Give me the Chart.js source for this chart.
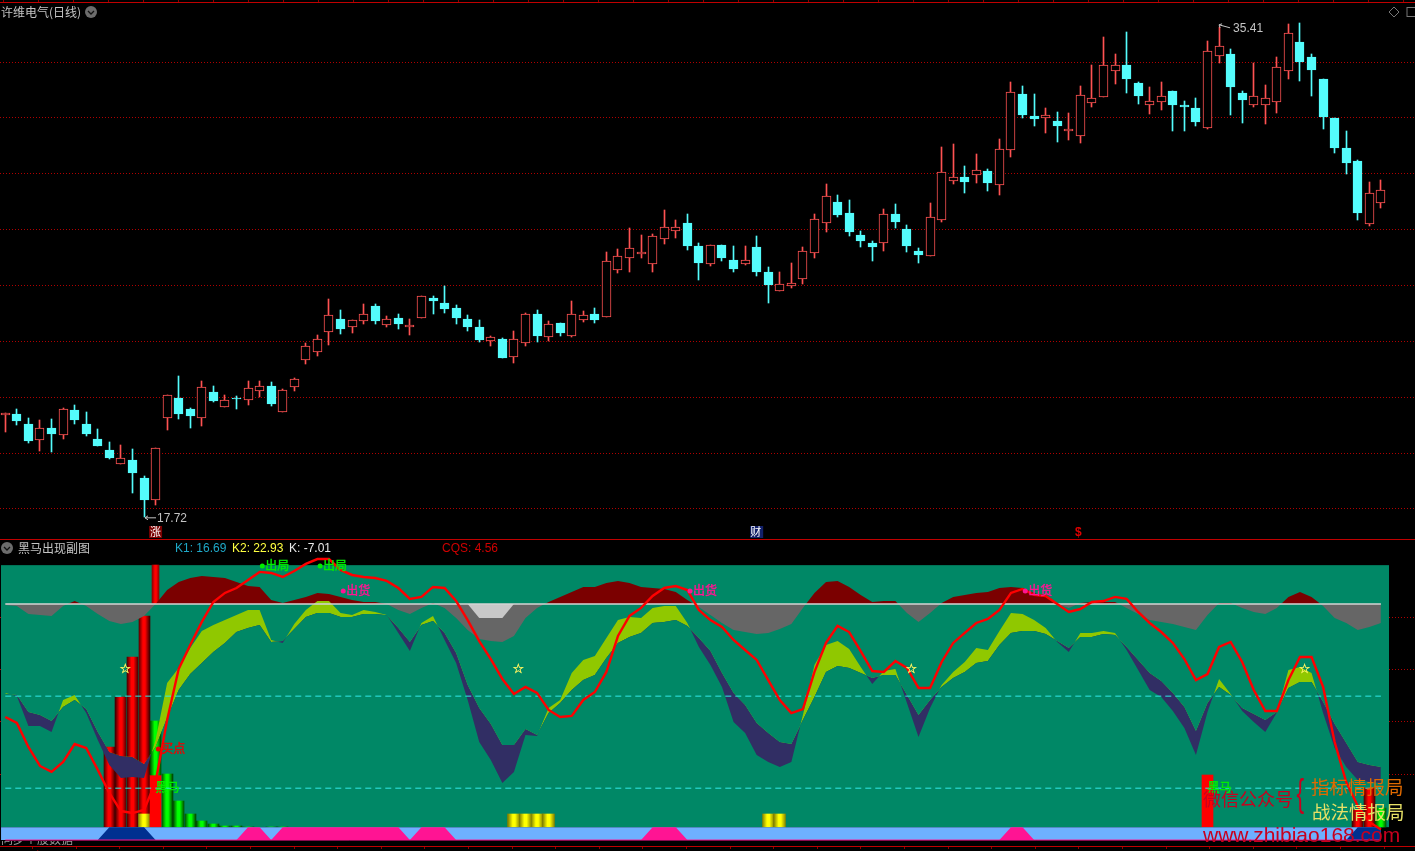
<!DOCTYPE html>
<html>
<head>
<meta charset="utf-8">
<script src="https://cdn.jsdelivr.net/npm/chart.js@4"></script>
<style>
  html, body { margin: 0; background: #000; overflow: hidden; }
  #page { position: relative; width: 1415px; height: 851px; overflow: hidden; background: #000; }
  canvas { position: absolute; left: 0; }
  .t { position: absolute; font: 12px 'Noto Sans CJK SC', 'Liberation Sans', sans-serif; line-height: 14px; white-space: nowrap; }
  .rule { position: absolute; left: 0; width: 1415px; height: 1px; background: #c00000; }
  .fold { position: absolute; width: 14px; height: 14px; }
</style>
</head>
<body>
<div id="page">
  <canvas id="priceChart" width="1415" height="540" style="top:0"></canvas>
  <canvas id="indicatorChart" width="1415" height="311" style="top:540px"></canvas>

  <div class="rule" style="top:2px"></div>
  <div class="rule" style="top:539px"></div>
  <div class="rule" style="top:846px"></div>
  <div style="position:absolute;left:0;top:0;width:1415px;height:2px;background:repeating-linear-gradient(90deg,#900000 0 1px,transparent 1px 35px);background-position:3px 0"></div>
  <div style="position:absolute;left:32px;top:847px;width:1383px;height:2px;background:repeating-linear-gradient(90deg,#900000 0 1px,transparent 1px 43.6px)"></div>

  <div class="t" style="left:1px;top:5px;color:#c4c4c4">许维电气(日线)</div>
  <svg class="fold" style="left:84px;top:5px" viewBox="0 0 14 14"><circle cx="7" cy="7" r="6" fill="#6c6c6c"/><polyline points="4,6 7,9 10,6" fill="none" stroke="#111" stroke-width="1.3"/></svg>
  <svg style="position:absolute;left:1387px;top:5px" width="28" height="14" viewBox="0 0 28 14"><path d="M7 2 L12 7 L7 12 L2 7 Z" fill="none" stroke="#777"/><rect x="20" y="2.5" width="12" height="9" fill="none" stroke="#777"/></svg>

  <svg class="fold" style="left:0;top:541px" viewBox="0 0 14 14"><circle cx="7" cy="7" r="6" fill="#6c6c6c"/><polyline points="4,6 7,9 10,6" fill="none" stroke="#111" stroke-width="1.3"/></svg>
  <div class="t" style="left:18px;top:541px;color:#c4c4c4">黑马出现副图</div>
  <div class="t" style="left:175px;top:541px;color:#1fa8c8;font-family:'Liberation Sans'">K1: 16.69</div>
  <div class="t" style="left:232px;top:541px;color:#ffff40;font-family:'Liberation Sans'">K2: 22.93</div>
  <div class="t" style="left:289px;top:541px;color:#e8e8e8;font-family:'Liberation Sans'">K: -7.01</div>
  <div class="t" style="left:442px;top:541px;color:#d00000;font-family:'Liberation Sans'">CQS: 4.56</div>

  <div style="position:absolute;left:1px;top:841px;width:90px;height:4px;overflow:hidden">
    <div class="t" style="left:0;top:-9px;color:#999">同步个股数据</div>
  </div>
  <div style="position:absolute;left:0;top:849px;width:1415px;height:2px;overflow:hidden">
    <div class="t" style="left:7px;top:-1px;color:#d00000">2023/</div>
    <div class="t" style="left:122px;top:-1px;color:#d00000">11</div>
    <div class="t" style="left:295px;top:-1px;color:#d00000">12</div>
    <div class="t" style="left:537px;top:-1px;color:#d00000">2</div>
    <div class="t" style="left:770px;top:-1px;color:#d00000">3</div>
    <div class="t" style="left:1003px;top:-1px;color:#d00000">4</div>
    <div class="t" style="left:1222px;top:-1px;color:#d00000">5</div>
  </div>

  <div class="t" style="left:1203px;top:787px;font-size:18px;line-height:22px;color:#c8001e">微信公众号</div>
  <div class="t" style="left:1294px;top:769px;font-size:38px;line-height:48px;color:#c8001e;font-family:'Liberation Sans';transform:scaleX(.6)">{</div>
  <div class="t" style="left:1311px;top:775px;font-size:18.5px;line-height:22px;color:#e06a00">指标情报局</div>
  <div class="t" style="left:1312px;top:800px;font-size:18.5px;line-height:22px;color:#e6e066">战法情报局</div>
  <div class="t" style="left:1203px;top:822px;font-size:21px;line-height:26px;color:#c8001e;font-family:'Liberation Sans'">www.zhibiao168.com</div>
</div>

<script>
// ── Data ─────────────────────────────────────────────────────────────────────

const candleOpen = [
  21.35,21.40,21.04,20.48,20.90,20.66,21.54,21.04,20.50,20.11,
  19.62,19.75,19.11,18.33,21.27,21.97,21.58,21.27,22.19,21.66,
  21.99,21.91,22.23,22.40,21.48,22.38,23.34,23.63,24.34,24.80,
  24.52,24.74,25.26,24.60,24.84,24.51,24.85,25.55,25.37,25.19,
  24.80,24.51,24.01,24.08,23.45,23.95,24.98,24.17,24.66,24.20,
  24.77,24.98,24.88,26.57,27.00,27.13,26.78,27.67,27.96,28.24,
  27.41,26.78,27.45,26.91,26.78,27.38,26.48,25.81,25.99,26.24,
  27.15,28.25,28.99,28.60,27.81,27.52,27.53,28.56,28.02,27.23,
  27.07,28.35,29.75,29.88,29.96,30.10,29.61,30.86,32.85,32.07,
  31.99,31.89,31.54,31.36,32.52,32.76,33.69,33.89,33.25,32.47,
  32.58,32.96,32.46,32.35,31.65,34.23,34.29,32.89,32.47,32.47,
  32.58,33.69,34.72,34.18,33.39,31.99,30.92,30.46,28.21,28.96];

const candleClose = [
  21.43,21.16,20.43,20.89,20.68,21.57,21.18,20.68,20.25,19.82,
  19.81,19.29,18.32,20.17,22.07,21.40,21.33,22.35,21.86,21.89,
  21.95,22.32,22.39,21.76,22.25,22.65,23.82,24.07,24.93,24.44,
  24.75,24.97,24.73,24.79,24.62,24.59,25.61,25.44,25.16,24.84,
  24.51,24.05,24.14,23.40,24.07,24.97,24.19,24.61,24.30,24.97,
  24.93,24.76,26.87,27.05,27.33,27.20,27.76,28.08,28.08,27.41,
  26.80,27.44,26.98,26.59,26.90,26.48,26.02,26.04,26.08,27.22,
  28.37,29.19,28.52,27.91,27.59,27.38,28.55,28.27,27.41,27.09,
  28.44,30.05,29.87,29.70,30.12,29.67,30.88,32.92,32.10,31.96,
  32.09,31.71,31.60,32.81,32.70,33.88,33.88,33.39,32.78,32.59,
  32.77,32.46,32.39,31.85,34.38,34.56,33.11,32.64,32.77,32.70,
  33.81,35.03,34.00,33.71,32.03,30.92,30.38,28.60,29.30,29.41];

const candleHigh = [
  21.43,21.58,21.26,21.18,21.22,21.61,21.72,21.47,20.86,20.40,
  20.29,20.15,19.18,20.18,22.08,22.76,21.61,22.58,22.40,22.08,
  22.04,22.58,22.58,22.54,22.29,22.69,23.95,24.23,25.52,25.12,
  24.75,25.34,25.34,24.91,24.98,24.80,25.61,25.62,25.98,25.30,
  24.94,24.76,24.19,24.12,24.37,25.01,25.12,24.73,24.66,25.44,
  25.09,25.19,27.20,27.31,28.06,27.81,27.84,28.70,28.34,28.56,
  27.52,27.45,27.45,27.41,27.41,27.77,26.66,26.48,26.80,27.38,
  28.56,29.63,29.24,29.06,27.95,27.59,28.74,28.92,28.17,27.34,
  28.95,30.96,31.06,30.28,30.71,30.17,31.24,33.28,33.14,32.85,
  32.35,32.21,32.17,33.14,33.89,34.90,34.29,35.07,33.28,33.10,
  33.28,32.96,32.60,32.71,34.75,35.26,34.47,32.96,33.96,33.18,
  34.18,35.36,35.40,34.29,33.39,31.99,31.53,30.49,29.70,29.78];

const candleLow = [
  20.77,21.00,20.37,20.09,20.05,20.50,21.04,20.61,20.25,19.79,
  19.62,18.57,17.72,18.14,20.83,21.22,20.90,20.97,21.83,21.66,
  21.58,21.72,22.01,21.69,21.48,22.22,23.19,23.47,23.87,24.26,
  24.30,24.62,24.62,24.51,24.44,24.23,24.85,24.98,25.01,24.62,
  24.37,23.98,23.83,23.40,23.22,23.83,23.98,24.01,24.19,24.15,
  24.69,24.66,24.88,26.45,26.48,26.98,26.48,27.49,27.70,27.27,
  26.20,26.70,26.88,26.48,26.73,26.34,25.37,25.81,25.91,26.05,
  26.98,27.91,28.45,27.77,27.38,26.88,27.23,28.06,27.20,26.80,
  27.07,28.27,29.63,29.31,29.67,29.38,29.24,30.60,31.99,31.71,
  31.47,31.14,31.21,31.10,32.39,32.76,33.21,32.89,32.50,32.14,
  32.28,31.53,31.53,31.71,31.61,33.96,32.10,31.82,32.39,31.78,
  32.17,33.39,33.32,32.78,31.60,30.74,29.99,28.34,28.13,28.77];

const priceTicks = [18, 20, 22, 24, 26, 28, 30, 32, 34];
const lowMark  = { index: 12,  label: '17.72' };
const highMark = { index: 105, label: '35.41' };
const signalIdx  = [13, 65, 93];
const signalText = ['涨', '财', '$'];

const kLine = [
  66.4,62.5,46.9,34.5,30.6,37.1,48.8,46.2,31.9,16.9,
  5.1,3.8,5.8,24.0,64.5,97.7,113.4,128.4,141.4,147.3,
  150.5,155.7,161.0,160.3,157.7,161.6,166.2,169.4,169.4,162.3,
  159.0,157.7,157.0,155.1,150.5,143.4,144.7,151.2,150.5,142.0,
  129.6,115.9,104.2,91.2,81.4,86.0,82.1,71.0,66.4,67.1,
  77.5,82.7,95.8,119.2,132.3,137.5,145.3,150.5,151.8,149.2,
  136.2,129.6,125.1,116.6,110.1,103.6,90.5,77.5,69.0,71.6,
  95.8,114.7,125.8,121.8,109.4,96.4,95.8,102.9,98.4,85.3,
  85.3,102.3,114.7,121.2,127.7,130.3,136.2,147.3,149.9,146.0,
  145.3,140.1,134.9,136.8,141.4,142.0,144.7,143.4,134.9,127.7,
  121.8,114.7,104.2,90.5,94.4,112.1,115.3,102.3,84.0,70.3,
  70.3,90.5,105.5,105.5,86.0,50.1,24.0,8.4,-2.0,-7.01];

const fastBand = [
  82.1,80.1,60.6,60.6,56.6,77.5,80.8,69.0,51.4,35.1,
  26.6,27.3,26.6,51.4,88.6,98.4,111.4,122.5,126.4,129.6,
  132.9,136.2,136.2,116.6,114.7,127.1,136.2,142.0,142.0,134.2,
  132.9,136.2,134.9,132.9,121.2,109.4,127.7,132.3,116.6,101.6,
  77.5,50.1,38.4,23.4,30.6,54.7,54.0,72.3,77.5,95.1,
  103.6,106.2,117.9,129.6,131.6,131.0,137.5,138.8,138.8,127.7,
  112.1,100.3,86.0,63.2,56.0,41.6,37.1,33.8,37.1,67.7,
  100.3,113.4,116.0,110.8,99.0,87.9,96.4,97.7,75.5,53.4,
  72.3,87.3,95.8,102.3,111.4,110.1,122.5,134.2,133.6,129.6,
  124.4,115.3,108.8,121.2,121.2,122.5,121.2,110.1,97.1,84.0,
  79.5,70.3,59.2,41.6,69.7,91.2,81.4,70.3,63.2,56.6,
  69.4,97.1,99.0,95.1,69.0,46.2,33.8,25.3,24.0,23.4];

const slowBand = [
  81.4,80.8,69.7,67.7,63.8,72.9,77.5,71.6,56.6,43.6,
  41.0,40.3,35.8,46.9,65.8,84.0,94.4,101.6,108.8,114.7,
  121.8,124.4,126.4,115.3,116.0,123.8,131.6,134.2,134.2,131.6,
  131.6,133.6,133.6,132.7,124.4,115.3,126.4,129.0,121.2,108.1,
  87.3,72.3,61.9,48.2,48.2,58.6,54.7,69.0,75.5,84.0,
  90.5,93.8,104.9,114.7,118.6,121.2,127.7,128.4,129.6,125.8,
  117.9,109.4,95.1,82.1,74.2,62.5,56.0,50.1,48.8,64.5,
  79.5,95.8,99.7,98.4,95.1,91.8,93.8,93.8,80.8,67.7,
  77.5,86.0,91.8,95.8,101.6,102.9,113.4,121.2,122.5,122.5,
  120.5,116.0,111.4,118.6,118.6,120.5,119.9,112.1,103.6,95.1,
  89.9,82.1,72.9,57.3,75.5,86.0,80.8,72.3,68.4,64.5,
  69.7,85.3,89.2,89.2,76.2,61.9,49.5,37.1,35.1,33.8];

const cqsArea = [
  139.4,138.8,133.6,132.9,132.3,138.8,142.0,138.8,133.6,129.0,
  127.1,128.4,132.3,140.0,149.2,154.4,157.0,158.3,157.7,157.0,
  154.4,151.8,151.2,142.7,140.7,142.7,144.7,147.3,146.6,144.7,
  142.7,141.4,141.4,140.1,136.2,133.6,137.5,140.7,137.5,131.0,
  123.2,117.3,116.0,115.3,119.2,131.0,137.5,141.4,144.7,147.9,
  151.2,151.2,153.8,155.1,153.8,151.2,150.5,149.9,147.9,142.7,
  138.1,132.9,127.7,123.2,121.8,120.5,121.2,123.8,127.1,137.5,
  147.3,154.4,155.1,151.2,145.9,141.4,142.0,142.0,134.2,128.4,
  134.2,140.7,144.7,145.9,147.3,147.9,150.5,151.2,150.5,147.3,
  144.7,140.1,137.5,140.7,141.4,141.4,141.4,137.5,133.6,129.6,
  128.4,127.1,125.1,123.2,132.9,140.7,140.7,137.5,134.9,133.6,
  137.5,144.7,147.9,144.7,138.8,131.0,127.7,123.2,125.1,127.7];

const dipIdx = [40, 41, 42, 43, 44];
const dipVal = [140, 131, 131, 131, 140];

const cqsBase = 140;
const refLevels = [80, 20];
const indicatorTicks = [131.6, 97.1, 63.2, 28.6];
const barFloor = -5.4;
const paneTop = 165.4;
const bandBottom = -13.8;

const redBarIdx  = [9, 10, 11, 12, 117, 118];
const redBarTop  = [46.9, 79.5, 105.5, 132.3, 5.8, 20.1];
const greenBarIdx = [14, 15, 16, 17, 18, 19, 20, 21, 23, 24, 119];
const greenBarTop = [29.3, 11.6, 3.2, -1.4, -3.3, -4.6, -4.6, -5.0, -5.0, -5.0, 7.1];
const yellowBarIdx = [12, 44, 45, 46, 47, 66, 67];
const yellowBarTop = 3.2;
const horseIdx = [13, 104];
const horseTop = 28.6;
const horseGreenIdx = 13;
const horseGreenTop = 63.8;
const spikeIdx = 13;

const pinkIdx = [21, 22, 24, 25, 26, 27, 28, 29, 30, 31, 32, 33, 34, 36, 37, 38, 56, 57, 58, 87, 88];
const blueIdx = [9, 10, 11, 12, 117, 118, 119];

const exitIdx = [22, 27];
const exitLevel = 164.9;
const shipIdx = [29, 59, 88];
const shipLevel = 148.6;
const buyIdx = 13;
const buyLevel = 45.6;
const horseLabelLevel = 20.8;
const starIdx = [10, 44, 78, 112];
const starLevel = 97.1;

// ── Shared ───────────────────────────────────────────────────────────────────

const N = candleOpen.length;
const XMIN = -0.458, XMAX = 121.95;
const RED = '#ff5252', CYAN = '#54fcfc';
const CJK = "'Noto Sans CJK SC', sans-serif";
const xs = Array.from({ length: N }, (_, i) => i);

const xAxis = () => ({ type: 'linear', display: false, offset: false, min: XMIN, max: XMAX, grid: { offset: false } });
const yAxis = (min, max, ticks) => ({
  min, max,
  afterFit: s => { s.width = 0; },
  afterBuildTicks: s => { s.ticks = ticks.map(v => ({ value: v })); },
  ticks: { display: false },
  border: { display: false, dash: [1, 2] },
  grid: { color: '#b00000', drawTicks: false, lineWidth: 1 },
});

const baseOptions = {
  responsive: false,
  animation: false,
  devicePixelRatio: 1,
  layout: { padding: 0 },
  events: [],
  plugins: { legend: { display: false }, tooltip: { enabled: false } },
};

// the terminal draws on whole pixels, so put the bars there too
const snapBars = {
  id: 'snapBars',
  beforeDatasetsDraw(chart) {
    chart.getSortedVisibleDatasetMetas().forEach(meta => {
      if (meta.type !== 'bar') return;
      meta.data.forEach(el => {
        el.x = Math.floor(el.x) + 0.5;
        el.y = Math.round(el.y);
        el.base = Math.round(el.base);
      });
    });
  },
};

// ── Price pane ───────────────────────────────────────────────────────────────

const priceMarks = {
  id: 'priceMarks',
  afterDatasetsDraw(chart) {
    const { ctx, scales: { x, y } } = chart;
    ctx.save();
    ctx.textBaseline = 'middle';
    ctx.font = "12px 'Liberation Sans'";
    ctx.fillStyle = '#c4c4c4';
    ctx.strokeStyle = '#c4c4c4';
    ctx.lineWidth = 1;

    const lx = x.getPixelForValue(lowMark.index) + 1, ly = y.getPixelForValue(candleLow[lowMark.index]) + 1;
    ctx.beginPath();
    ctx.moveTo(lx, ly); ctx.lineTo(lx + 11, ly);
    ctx.moveTo(lx, ly); ctx.lineTo(lx + 3, ly - 2);
    ctx.moveTo(lx, ly); ctx.lineTo(lx + 3, ly + 2);
    ctx.stroke();
    ctx.fillText(lowMark.label, lx + 12, ly + 1);

    const hx = x.getPixelForValue(highMark.index), hy = y.getPixelForValue(candleHigh[highMark.index]) - 2;
    ctx.beginPath();
    ctx.moveTo(hx, hy); ctx.lineTo(hx + 11, hy + 3);
    ctx.moveTo(hx, hy); ctx.lineTo(hx + 3, hy - 1);
    ctx.moveTo(hx, hy); ctx.lineTo(hx + 1, hy + 3);
    ctx.stroke();
    ctx.fillText(highMark.label, hx + 14, hy + 4);

    signalIdx.forEach((idx, k) => {
      const sx = x.getPixelForValue(idx);
      const txt = signalText[k];
      ctx.textAlign = 'center';
      if (txt === '$') {
        ctx.fillStyle = '#e00000';
        ctx.font = "bold 12px 'Liberation Sans'";
        ctx.fillText(txt, sx - 2, 533);
      } else {
        ctx.fillStyle = txt === '涨' ? '#7a0000' : '#12206a';
        ctx.fillRect(sx - 6.5, 526, 13, 12);
        ctx.fillStyle = '#fff';
        ctx.font = '11px ' + CJK;
        ctx.fillText(txt, txt === '财' ? sx - 1 : sx, 532);
      }
    });
    ctx.restore();
  },
};

new Chart(document.getElementById('priceChart'), {
  type: 'bar',
  data: {
    datasets: [
      {
        data: xs.map(i => ({ x: i, y: [candleLow[i], candleHigh[i]] })),
        grouped: false,
        barThickness: 1,
        backgroundColor: xs.map(i => candleClose[i] >= candleOpen[i] ? RED : CYAN),
        order: 2,
      },
      {
        data: xs.map(i => ({ x: i, y: [candleOpen[i], candleClose[i]] })),
        grouped: false,
        barThickness: 9,
        borderWidth: 1,
        borderSkipped: false,
        borderColor: xs.map(i => candleClose[i] >= candleOpen[i] ? RED : CYAN),
        backgroundColor: xs.map(i => candleClose[i] >= candleOpen[i] ? '#000' : CYAN),
        order: 1,
      },
    ],
  },
  options: {
    ...baseOptions,
    scales: { x: xAxis(), y: yAxis(16.89, 36.22, priceTicks) },
  },
  plugins: [snapBars, priceMarks],
});

// ── Indicator pane ───────────────────────────────────────────────────────────

// dark edges, bright middle, so a bar looks like a cylinder
function cylinder(dark, bright, width) {
  return c => {
    if (!c.raw) return bright;
    const px = c.chart.scales.x.getPixelForValue(c.raw.x);
    if (!Number.isFinite(px)) return bright;
    const g = c.chart.ctx.createLinearGradient(px - width / 2, 0, px + width / 2, 0);
    g.addColorStop(0, dark);
    g.addColorStop(0.4, bright);
    g.addColorStop(0.6, bright);
    g.addColorStop(1, dark);
    return g;
  };
}

const bars = (idx, tops, extra) => ({
  data: idx.map((i, k) => ({ x: i, y: [barFloor, Array.isArray(tops) ? tops[k] : tops] })),
  grouped: false,
  ...extra,
});
const line = (data, extra) => ({
  type: 'line',
  data,
  pointRadius: 0,
  tension: 0,
  borderWidth: 0,
  ...extra,
});
const pts = arr => arr.map((v, i) => ({ x: i, y: v }));
const level = (v, from = xs[0]) => [{ x: from, y: v }, { x: xs[N - 1], y: v }];
const bandLevels = idx => xs.map(i => ({ x: i, y: idx.includes(i) ? barFloor : bandBottom }));

const indicatorMarks = {
  id: 'indicatorMarks',
  beforeDatasetsDraw(chart) {
    const { ctx, scales: { y } } = chart;
    const top = y.getPixelForValue(paneTop), floor = y.getPixelForValue(barFloor);
    ctx.save();
    ctx.fillStyle = '#008866';
    ctx.fillRect(1, top, 1388, floor - top);
    ctx.restore();
  },
  afterDatasetsDraw(chart) {
    const { ctx, scales: { x, y } } = chart;
    const label = (txt, px, py, color) => {
      ctx.fillStyle = color;
      ctx.strokeStyle = color;
      ctx.lineWidth = 0.4;
      ctx.fillText(txt, px, py);
      ctx.strokeText(txt, px, py);
    };
    const tag = (idx, v, txt, color) => {
      const px = x.getPixelForValue(idx) + 2.7, py = y.getPixelForValue(v);
      ctx.fillStyle = color;
      ctx.beginPath();
      ctx.arc(px, py, 2.5, 0, Math.PI * 2);
      ctx.fill();
      ctx.font = '12px ' + CJK;
      label(txt, px + 3, py, color);
    };
    ctx.save();
    ctx.textBaseline = 'middle';
    exitIdx.forEach(i => tag(i, exitLevel, '出局', '#00ee00'));
    shipIdx.forEach(i => tag(i, shipLevel, '出货', '#ff1493'));
    tag(buyIdx, buyLevel, '买点', '#f00000');

    ctx.font = '12px ' + CJK;
    horseIdx.forEach(i => label('黑马', x.getPixelForValue(i), y.getPixelForValue(horseLabelLevel), '#00ee00'));

    ctx.font = "13px 'DejaVu Sans'";
    ctx.textAlign = 'center';
    starIdx.forEach(i => label('☆', x.getPixelForValue(i) + 4.5, y.getPixelForValue(starLevel), '#f4f060'));
    ctx.restore();
  },
};

new Chart(document.getElementById('indicatorChart'), {
  type: 'bar',
  data: {
    datasets: [
      bars(redBarIdx, redBarTop, { barThickness: 11, backgroundColor: cylinder('#4a0000', '#ff0000', 11), order: 20 }),
      bars(yellowBarIdx, yellowBarTop, { barThickness: 12, backgroundColor: cylinder('#808000', '#ffff00', 12), order: 19 }),
      bars(greenBarIdx, greenBarTop, { barThickness: 11, backgroundColor: cylinder('#004800', '#00ff00', 11), order: 18 }),
      bars(horseIdx, horseTop, { barThickness: 11, backgroundColor: '#ff0000', order: 17 }),
      {
        data: [{ x: horseGreenIdx, y: [horseTop, horseGreenTop] }],
        grouped: false, barThickness: 11, backgroundColor: cylinder('#004800', '#00ff00', 11), order: 16,
      },
      {
        data: [{ x: spikeIdx, y: [cqsBase, paneTop] }],
        grouped: false, barThickness: 7, backgroundColor: cylinder('#900000', '#ff0000', 7), order: 15,
      },
      line(pts(cqsArea), { fill: { target: { value: cqsBase }, above: '#7b0000', below: '#666666' }, order: 14 }),
      line(dipIdx.map((i, k) => ({ x: i, y: dipVal[k] })), { fill: { target: { value: cqsBase }, below: '#c8c8c8', above: '#c8c8c8' }, order: 13 }),
      line(pts(fastBand), { fill: { target: '+1', above: '#90c800', below: '#312e64' }, order: 12 }),
      line(pts(slowBand), { order: 11 }),
      line(level(barFloor, XMIN + 0.09), { fill: { value: bandBottom }, backgroundColor: '#6eb0ff', order: 10 }),
      line(bandLevels(pinkIdx), { fill: { value: bandBottom }, backgroundColor: '#ff1493', order: 9 }),
      line(bandLevels(blueIdx), { fill: { value: bandBottom }, backgroundColor: '#003090', order: 8 }),
      line(level(bandBottom), { borderColor: '#ff1493', borderWidth: 1, order: 7 }),
      line(level(cqsBase), { borderColor: '#d4d4d4', borderWidth: 1.5, order: 6 }),
      ...refLevels.map(v => line(level(v), { borderColor: '#30eaea', borderWidth: 1, borderDash: [6, 4], order: 5 })),
      line(pts(kLine), { borderColor: '#ff0000', borderWidth: 2.4, order: 1 }),
    ],
  },
  options: {
    ...baseOptions,
    scales: { x: xAxis(), y: yAxis(-20.95, 181.8, indicatorTicks) },
  },
  plugins: [snapBars, indicatorMarks],
});
</script>
</body>
</html>
